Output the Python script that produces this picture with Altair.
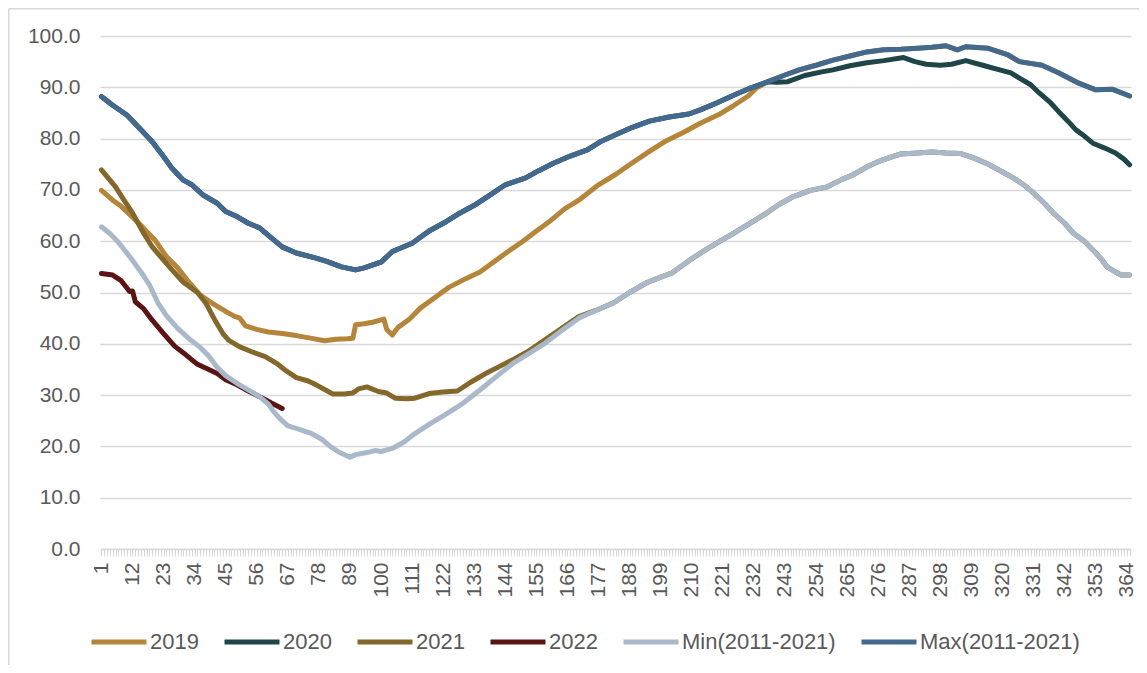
import altair as alt
import pandas as pd

series_names = ["2019", "2020", "2021", "2022", "Min(2011-2021)", "Max(2011-2021)"]
series_colors = ["#B5853A", "#1F4548", "#84682B", "#5A1414", "#A9B9CA", "#44698F"]

x_tick_days = list(range(1, 366))
y_ticks = [0, 10, 20, 30, 40, 50, 60, 70, 80, 90, 100]

max_days = [1, 5, 10, 14, 19, 23, 26, 30, 33, 37, 42, 45, 49, 53, 57, 60, 65, 70, 77, 81,
            86, 91, 94, 100, 104, 111, 117, 123, 128, 133, 138, 144, 151, 156, 161, 167,
            173, 178, 184, 189, 195, 202, 209, 213, 219, 225, 231, 237, 243, 248, 254, 260,
            266, 272, 278, 284, 290, 295, 300, 304, 307, 315, 322, 326, 334, 340, 347, 353,
            359, 365]
max_vals = [88.2, 86.5, 84.6, 82.3, 79.4, 76.5, 74.2, 71.9, 71.0, 69.0, 67.4, 65.8, 64.8,
            63.5, 62.6, 61.2, 58.9, 57.7, 56.7, 56.0, 55.0, 54.4, 54.8, 55.9, 58.0, 59.6,
            62.0, 63.8, 65.5, 67.0, 68.8, 71.0, 72.3, 73.8, 75.2, 76.6, 77.8, 79.5, 81.0,
            82.2, 83.4, 84.2, 84.8, 85.6, 87.0, 88.5, 89.9, 91.1, 92.4, 93.4, 94.3, 95.3,
            96.1, 96.9, 97.3, 97.4, 97.6, 97.8, 98.1, 97.3, 97.9, 97.6, 96.3, 95.0, 94.3,
            92.8, 90.8, 89.5, 89.6, 88.3]

# 2020 (hidden under the Max line until ~day 238)
y2020_days = [240, 244, 250, 256, 260, 266, 272, 278, 285, 289, 293, 298, 302, 307, 313,
              319, 323, 326, 330, 333, 337, 340, 343, 346, 349, 352, 356, 360, 363, 365]
y2020_vals = [91.0, 91.1, 92.3, 93.0, 93.4, 94.2, 94.8, 95.2, 95.8, 95.0, 94.5, 94.3, 94.5,
              95.2, 94.3, 93.4, 92.8, 91.8, 90.5, 88.9, 87.0, 85.2, 83.5, 81.7, 80.5, 79.1,
              78.2, 77.2, 76.0, 74.9]

# 2019 (hidden under the Max line after ~day 233)
y2019_days = [1, 5, 8, 12, 16, 20, 24, 28, 32, 36, 40, 45, 48, 50, 52, 56, 60, 65, 70, 75,
              80, 84, 88, 90, 91, 94, 97, 101, 102, 104, 106, 110, 114, 118, 124, 130, 135,
              140, 145, 150, 155, 160, 165, 170, 177, 183, 189, 195, 201, 207, 213, 220, 225,
              230, 233]
y2019_vals = [69.9, 68.0, 66.8, 64.7, 62.5, 60.2, 57.0, 54.8, 52.0, 49.5, 48.0, 46.3, 45.4,
              45.0, 43.5, 42.8, 42.3, 42.0, 41.6, 41.1, 40.6, 40.9, 41.0, 41.1, 43.7, 43.9,
              44.2, 44.8, 42.8, 41.7, 43.2, 44.8, 47.0, 48.6, 51.0, 52.7, 54.0, 56.0, 58.0,
              59.9, 62.0, 64.0, 66.3, 68.0, 71.0, 73.0, 75.3, 77.5, 79.6, 81.2, 83.0, 84.8,
              86.5, 88.3, 89.9]

# 2021 (hidden under the Min line after ~day 170)
y2021_days = [1, 6, 9, 12, 16, 19, 23, 26, 30, 35, 38, 41, 44, 46, 50, 54, 59, 63, 66, 70,
              74, 77, 81, 83, 87, 90, 92, 95, 99, 102, 105, 109, 112, 117, 122, 127, 132,
              137, 142, 147, 152, 157, 162, 166, 170]
y2021_vals = [73.9, 70.6, 68.0, 65.5, 61.5, 58.9, 56.3, 54.4, 52.0, 50.0, 47.9, 44.8, 42.0,
              40.7, 39.4, 38.5, 37.5, 36.2, 34.9, 33.4, 32.8, 32.0, 30.8, 30.2, 30.2, 30.4,
              31.2, 31.6, 30.7, 30.4, 29.4, 29.3, 29.4, 30.3, 30.6, 30.8, 32.6, 34.2, 35.6,
              37.0, 38.5, 40.4, 42.3, 43.8, 45.3]

y2022_days = [1, 5, 8, 11, 12, 13, 16, 19, 23, 27, 31, 35, 39, 42, 45, 49, 53, 57, 61, 65]
y2022_vals = [53.7, 53.4, 52.3, 50.2, 50.3, 48.2, 46.8, 44.6, 42.0, 39.5, 37.8, 36.0, 35.0,
              34.2, 33.0, 32.0, 30.8, 29.7, 28.5, 27.4]

min_days = [1, 4, 7, 11, 15, 18, 21, 24, 28, 32, 36, 39, 42, 45, 49, 53, 57, 60, 62, 64,
            67, 70, 75, 79, 82, 85, 89, 91, 95, 98, 100, 104, 108, 112, 117, 123, 129, 135,
            141, 147, 152, 158, 164, 170, 176, 182, 188, 194, 199, 203, 209, 214, 220, 225,
            230, 236, 241, 246, 252, 258, 263, 267, 272, 276, 281, 284, 290, 295, 300, 305,
            310, 315, 320, 324, 328, 331, 335, 338, 342, 345, 349, 352, 355, 357, 360, 362,
            365]
min_vals = [62.8, 61.5, 59.8, 57.0, 54.0, 51.5, 48.0, 45.5, 43.0, 41.0, 39.3, 37.6, 35.4,
            33.8, 32.3, 31.0, 29.7, 28.3, 26.8, 25.5, 24.0, 23.5, 22.6, 21.4, 20.0, 18.9,
            17.9, 18.4, 18.8, 19.2, 19.0, 19.6, 20.8, 22.5, 24.3, 26.3, 28.4, 31.0, 33.7,
            36.3, 38.0, 40.1, 42.6, 45.0, 46.5, 47.9, 50.0, 51.9, 53.0, 53.8, 56.2, 58.0,
            60.0, 61.6, 63.3, 65.3, 67.2, 68.7, 69.9, 70.6, 72.0, 72.9, 74.5, 75.5, 76.5,
            77.0, 77.2, 77.4, 77.2, 77.1, 76.2, 75.0, 73.5, 72.3, 70.8, 69.4, 67.3, 65.5,
            63.5, 61.6, 60.0, 58.3, 56.5, 55.0, 54.0, 53.4, 53.4]

rows = []


def add(name, days, vals):
    for d, v in zip(days, vals):
        rows.append({"series": name, "day": d, "value": v})


add("2019", y2019_days, y2019_vals)
add("2019", [d for d in max_days if d > 233], [v for d, v in zip(max_days, max_vals) if d > 233])
add("2020", [d for d in max_days if d <= 237], [v for d, v in zip(max_days, max_vals) if d <= 237])
add("2020", y2020_days, y2020_vals)
add("2021", y2021_days, y2021_vals)
add("2021", [d for d in min_days if d > 170], [v for d, v in zip(min_days, min_vals) if d > 170])
add("2022", y2022_days, y2022_vals)
add("Min(2011-2021)", min_days, min_vals)
add("Max(2011-2021)", max_days, max_vals)

df = pd.DataFrame(rows)

FONT = "Liberation Sans"
TXT = "#595959"
GRID = "#D9D9D9"

lines = alt.Chart(df).mark_line(
    strokeWidth=5, strokeCap="round", strokeJoin="round"
).encode(
    x=alt.X(
        "day:Q",
        scale=alt.Scale(domain=[0.5, 365.5], nice=False, zero=False),
        axis=alt.Axis(
            values=x_tick_days,
            labelExpr="(datum.value - 1) % 11 == 0 ? datum.value + '' : ''",
            labelAngle=-90, labelAlign="right", labelBaseline="middle",
            tickSize=7, tickColor=GRID, tickWidth=1,
            domainColor=GRID, domainWidth=1.5,
            grid=False, labelOverlap=False, labelFlush=False,
            labelPadding=6, labelFontSize=21, labelColor=TXT, labelFont=FONT,
            title=None,
        ),
    ),
    y=alt.Y(
        "value:Q",
        scale=alt.Scale(domain=[0, 100], nice=False),
        axis=alt.Axis(
            values=y_ticks, format=".1f", domain=False, ticks=False,
            gridColor=GRID, gridWidth=1.5, labelPadding=20,
            labelFontSize=21, labelColor=TXT, labelFont=FONT, title=None,
        ),
    ),
    color=alt.Color(
        "series:N",
        scale=alt.Scale(domain=series_names, range=series_colors),
        sort=series_names,
        legend=alt.Legend(
            title=None, orient="none", legendX=-11, legendY=576,
            direction="horizontal", symbolType="stroke", symbolSize=3025,
            symbolStrokeWidth=5, labelFontSize=22, labelColor=TXT, labelFont=FONT,
            labelOffset=1, columnPadding=15, padding=0,
        ),
    ),
)

frame_src = pd.DataFrame({"k": [0]})
frame_top = alt.Chart(frame_src).mark_rule(color=GRID, strokeWidth=1.5).encode(
    x=alt.value(-91.25), x2=alt.value(1040), y=alt.value(-27.25)
)
frame_left = alt.Chart(frame_src).mark_rule(color=GRID, strokeWidth=1.5).encode(
    x=alt.value(-91.25), y=alt.value(-27.25), y2=alt.value(630)
)

chart = alt.layer(frame_top, frame_left, lines).properties(
    width=1031, height=513,
    autosize=alt.AutoSizeParams(type="none"),
    padding={"left": 92, "top": 28, "right": 8, "bottom": 116},
).configure_view(stroke=None)

chart.save("out.html", embed_options={"renderer": "svg", "actions": False})
